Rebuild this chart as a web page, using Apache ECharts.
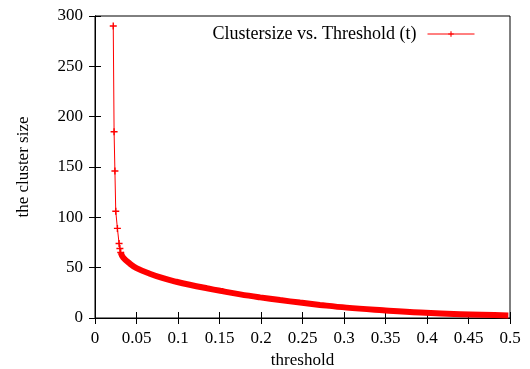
<!DOCTYPE html>
<html>
<head>
<meta charset="utf-8">
<script src="https://cdn.jsdelivr.net/npm/echarts@6/dist/echarts.min.js"></script>
<style>
  html, body { margin: 0; padding: 0; background: #fff; }
  #container { width: 530px; height: 369px; }
</style>
</head>
<body>
<div id="container"></div>
<script>
// steep head of the curve, sparse points with + markers
var steepT = [0.022, 0.023, 0.024, 0.025, 0.027, 0.029, 0.030, 0.031];
var steepV = [290, 185, 146, 106, 89, 74, 69, 65];
// dense tail, drawn as a thick band
var bandT = [0.031, 0.034, 0.042, 0.050, 0.066, 0.082, 0.098, 0.114, 0.135, 0.151, 0.175, 0.199,
             0.223, 0.247, 0.271, 0.303, 0.347, 0.392, 0.440, 0.498];
var bandV = [65, 60, 54, 49.5, 44, 39.5, 36, 33, 29.5, 27, 23.5, 20.5,
             17.8, 15.3, 13, 10.3, 7.7, 5.4, 3.7, 2.6];
var xTicks = [0, 0.05, 0.1, 0.15, 0.2, 0.25, 0.3, 0.35, 0.4, 0.45, 0.5];
var yTicks = [0, 50, 100, 150, 200, 250, 300];

var plus = 'path://M4,0H6V10H4ZM0,4H10V6H0Z';
var font = 'Liberation Serif';

function pairs(a, b) {
  return a.map(function (t, i) { return [t, b[i]]; });
}

var myChart = echarts.init(document.getElementById('container'));
var axisLine = { show: true, lineStyle: { color: '#000', width: 1 } };
var option = {
  animation: false,
  backgroundColor: '#fff',
  textStyle: { fontFamily: font },
  grid: { left: 95, right: 20, top: 16, bottom: 51, outerBoundsMode: 'none',
          show: true, borderColor: '#000', borderWidth: 1 },
  legend: {
    data: ['Clustersize vs. Threshold (t)'],
    right: 50, top: 20,
    align: 'right',
    itemWidth: 47, itemHeight: 7,
    itemGap: 0,
    lineStyle: { width: 1 },
    textStyle: { fontFamily: font, fontSize: 18, color: '#000', padding: [0, 6, 0, 0] }
  },
  xAxis: [{
    type: 'value', min: 0, max: 0.5, interval: 0.05,
    name: 'threshold', nameLocation: 'middle', nameGap: 34,
    nameTextStyle: { fontFamily: font, fontSize: 17, color: '#000' },
    axisLine: axisLine,
    axisTick: { show: true, inside: true, length: 6, lineStyle: { color: '#000' } },
    axisLabel: { fontFamily: font, fontSize: 17, color: '#000', margin: 12,
      formatter: function (v) { return String(xTicks[Math.round(v / 0.05)]); } },
    splitLine: { show: false }
  }, {
    type: 'value', min: 0, max: 0.5, interval: 0.05, position: 'top',
    axisLine: axisLine,
    axisTick: { show: true, inside: true, length: 6, lineStyle: { color: '#000' } },
    axisLabel: { show: false }, splitLine: { show: false }
  }],
  yAxis: [{
    type: 'value', min: 0, max: 300, interval: 50,
    name: 'the cluster size', nameLocation: 'middle', nameGap: 63,
    nameTextStyle: { fontFamily: font, fontSize: 17, color: '#000' },
    axisLine: axisLine,
    axisTick: { show: true, inside: true, length: 6, lineStyle: { color: '#000' } },
    axisLabel: { fontFamily: font, fontSize: 17, color: '#000', margin: 12,
      formatter: function (v) { return String(yTicks[Math.round(v / 50)]); } },
    splitLine: { show: false }
  }, {
    type: 'value', min: 0, max: 300, interval: 50, position: 'right',
    axisLine: axisLine,
    axisTick: { show: true, inside: true, length: 6, lineStyle: { color: '#000' } },
    axisLabel: { show: false }, splitLine: { show: false }
  }],
  series: [{
    name: 'band',
    type: 'line',
    data: pairs(bandT, bandV),
    smooth: 0.4,
    showSymbol: false,
    lineStyle: { color: '#ff0000', width: 6 },
    itemStyle: { color: '#ff0000' },
    z: 2
  }, {
    name: 'Clustersize vs. Threshold (t)',
    type: 'line',
    data: pairs(steepT, steepV),
    symbol: plus, symbolSize: 7,
    lineStyle: { color: '#ff0000', width: 1 },
    itemStyle: { color: '#ff0000', borderWidth: 0 },
    z: 3
  }]
};
myChart.setOption(option);
</script>
</body>
</html>
